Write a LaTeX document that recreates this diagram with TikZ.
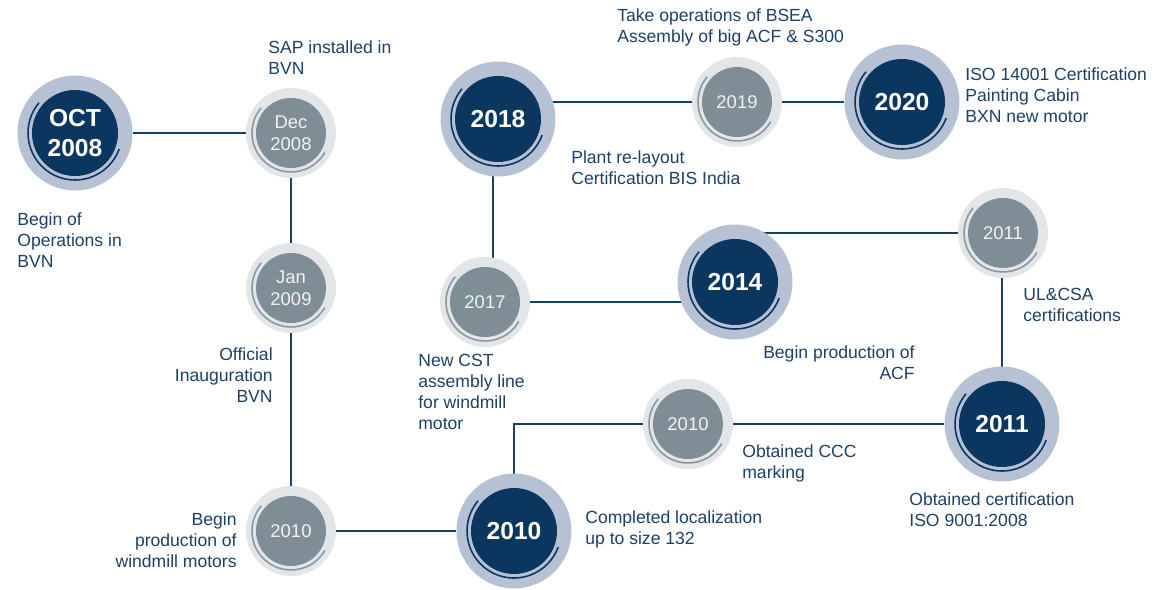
\documentclass[tikz,border=0pt]{standalone}
\usepackage{fontspec}
\setmainfont{Liberation Sans}
\usetikzlibrary{positioning,calc,backgrounds}

\definecolor{navy}{HTML}{0B3660}
\definecolor{lineNavy}{HTML}{16406A}
\definecolor{textNavy}{HTML}{1E3F66}
\definecolor{ringBlue}{HTML}{B6C2D4}
\definecolor{ringGrey}{HTML}{E2E6E9}
\definecolor{coreGrey}{HTML}{7F8E96}
\definecolor{arcGrey}{HTML}{8B979E}

\newcommand{\bigYear}[3]{%
  \node [bigRing] (#2) at (#1) {};
  \node [bigCore] at (#2.center) {#3};
  \draw [bigArc] (#2.center) ++(140:0.94cm) arc (140:340:0.94cm);
}
\newcommand{\smallYear}[3]{%
  \node [smallRing] (#2) at (#1) {};
  \node [smallCore] at (#2.center) {#3};
  \draw [smallArc] (#2.center) ++(140:0.78cm) arc (140:330:0.78cm);
}

\begin{document}
\begin{tikzpicture}[x=0.02cm,y=0.02cm]
  \useasboundingbox (0,0) rectangle (1162,589);

  \tikzstyle{bigRing} = [
    % The shape:
    circle, minimum size=2.3cm, inner sep=0pt,
    % The filling:
    fill=ringBlue
  ];
  \tikzstyle{bigCore} = [
    circle, minimum size=1.72cm, inner sep=0pt,
    fill=navy,
    % Font:
    text=white, align=center,
    font=\bfseries\fontsize{14}{17}\selectfont
  ];
  \tikzstyle{smallRing} = [
    circle, minimum size=1.8cm, inner sep=0pt,
    fill=ringGrey
  ];
  \tikzstyle{smallCore} = [
    circle, minimum size=1.4cm, inner sep=0pt,
    fill=coreGrey,
    text=white!95!black, align=center,
    font=\fontsize{10.5}{12.5}\selectfont
  ];
  \tikzstyle{bigArc} = [
    draw=navy,
    line width=0.9pt
  ];
  \tikzstyle{smallArc} = [
    draw=arcGrey,
    line width=0.9pt
  ];
  \tikzstyle{link} = [
    draw=lineNavy,
    line width=1.1pt
  ];
  \tikzstyle{note} = [
    % Just text!
    inner sep=0pt, anchor=north west, align=left,
    text=textNavy,
    font=\fontsize{10}{12}\selectfont
  ];
  \tikzstyle{noteRight} = [
    note, anchor=north east, align=right
  ];

  % The milestones:
  \bigYear{75,456}{oct2008}{OCT\\2008}
  \smallYear{291,456}{dec2008}{Dec\\2008}
  \smallYear{291,301}{jan2009}{Jan\\2009}
  \smallYear{291,58}{prod2010}{2010}
  \bigYear{514,58}{loc2010}{2010}
  \smallYear{688,165}{ccc2010}{2010}
  \bigYear{1002,165}{iso2011}{2011}
  \smallYear{1003,356}{ul2011}{2011}
  \bigYear{735,307}{acf2014}{2014}
  \smallYear{485,287}{cst2017}{2017}
  \bigYear{498,470}{bis2018}{2018}
  \smallYear{737,487}{bsea2019}{2019}
  \bigYear{902,487}{iso2020}{2020}

  % The path through them:
  \begin{scope}[on background layer]
    \path [link] (oct2008) to (dec2008);
    \path [link] (dec2008) to (jan2009);
    \path [link] (jan2009) to (prod2010);
    \path [link] (prod2010) to (loc2010);
    \path [link] (loc2010.center) |- (ccc2010.center);
    \path [link] (ccc2010) to (iso2011);
    \path [link] (iso2011.center) to (iso2011.center |- ul2011.center);
    \path [link] (acf2014.center |- ul2011.center) to (ul2011.center);
    \path [link] (cst2017.center) to (cst2017.center -| acf2014.center);
    \path [link] ($(cst2017.center)+(8,0)$) to ($(bis2018.center)+(-5,0)$);
    \path [link] (bis2018.center |- bsea2019.center) to (bsea2019.center);
    \path [link] (bsea2019) to (iso2020);
  \end{scope}

  % The notes:
  \node [note] (sapNote) at (268,549) {SAP installed in\\BVN};
  \node [note] (beginNote) at (17,377) {Begin of\\Operations in\\BVN};
  \node [noteRight] (inaugNote) at (273,242) {Official\\Inauguration\\BVN};
  \node [noteRight] (windNote) at (237,77) {Begin\\production of\\windmill motors};
  \node [note] (locNote) at (585,79) {Completed localization\\up to size 132};
  \node [note] (cccNote) at (742,145) {Obtained CCC\\marking};
  \node [note] (isoNote) at (909,97) {Obtained certification\\ISO 9001:2008};
  \node [note] (ulNote) at (1023,301) {UL\&CSA\\certifications};
  \node [noteRight] (acfNote) at (915,244) {Begin production of\\ACF};
  \node [note] (cstNote) at (418,235) {New CST\\assembly line\\for windmill\\motor};
  \node [note] (bisNote) at (571,439) {Plant re-layout\\Certification BIS India};
  \node [note] (bseaNote) at (617,581) {Take operations of BSEA\\Assembly of big ACF \& S300};
  \node [note] (isoTwoNote) at (965,522) {ISO 14001 Certification\\Painting Cabin\\BXN new motor};
\end{tikzpicture}
\end{document}
